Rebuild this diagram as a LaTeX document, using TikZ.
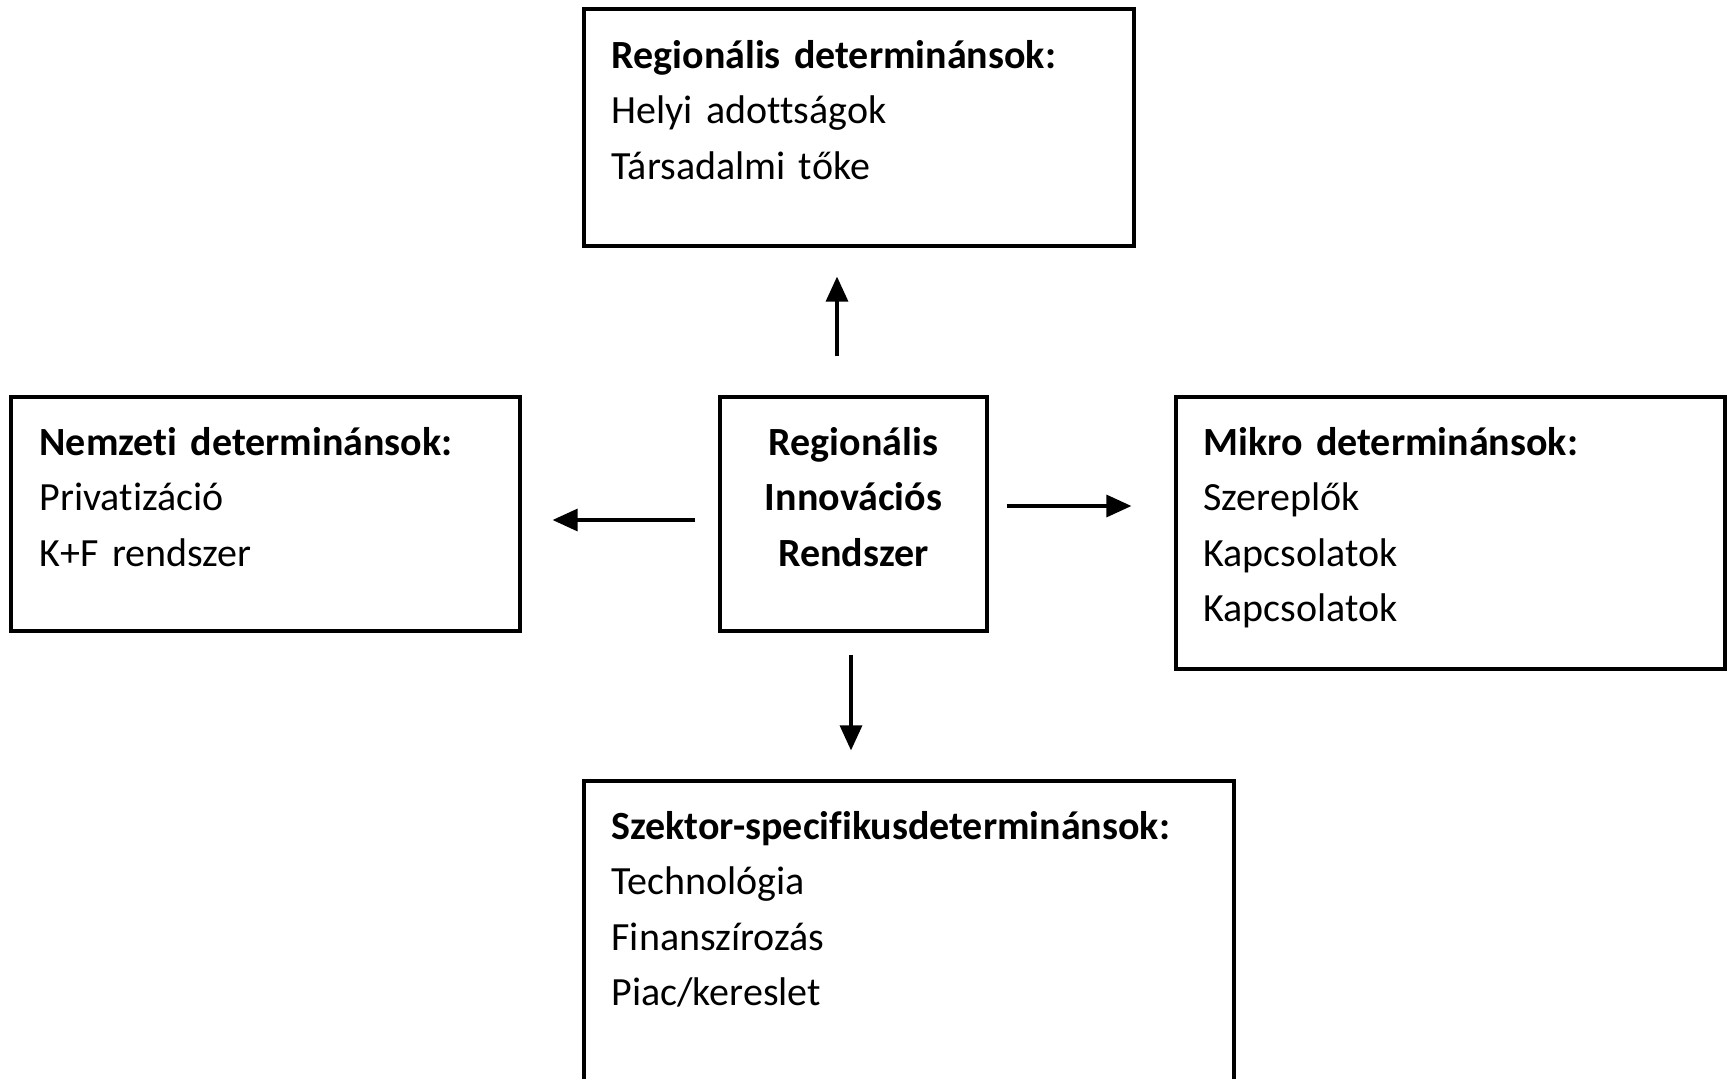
\documentclass[tikz,border=0pt]{standalone}
\usepackage{fontspec}
\setmainfont{Carlito}[Ligatures=NoCommon]
\usepackage{tikz}
\usetikzlibrary{arrows.meta,positioning}

\begin{document}
\begin{tikzpicture}[x=1pt,y=-1pt]
			\tikzstyle{box}=[rectangle, draw=black, line width=3.2pt, inner sep=0pt]
			\tikzstyle{txt}=[inner sep=0pt, anchor=base west, align=left, font=\fontsize{40}{55.5}\selectfont]
			\tikzstyle{connect}=[-{Triangle[length=25pt,width=22pt]}, line width=3.2pt]
			\useasboundingbox (0,0) rectangle (1727,1079);
			\clip (0,0) rectangle (1727,1079);
			% boxes
			\node[box, minimum width=550pt, minimum height=237pt] (regio) at (859,127.5) {};
			\node[box, minimum width=267pt, minimum height=234pt] (ris) at (853.5,514) {};
			\node[box, minimum width=509pt, minimum height=234pt] (nemzeti) at (265.5,514) {};
			\node[box, minimum width=549pt, minimum height=272pt] (mikro) at (1450.5,533) {};
			\node[box, minimum width=650pt, minimum height=329pt] (szektor) at (909,945.5) {};
			% texts
			\node[txt, text width=500pt] (regiotxt) at ([xshift=29pt,yshift=-61pt]regio.north west) {\textbf{Regionális determinánsok:}\\Helyi adottságok\\Társadalmi tőke};
			\node[txt, anchor=base, align=center, text width=260pt] (ristxt) at ([yshift=-60pt]ris.north) {\textbf{Regionális}\\\textbf{Innovációs}\\\textbf{Rendszer}};
			\node[txt, text width=470pt] (nemzetitxt) at ([xshift=30pt,yshift=-60pt]nemzeti.north west) {\textbf{Nemzeti determinánsok:}\\Privatizáció\\K+F rendszer};
			\node[txt, text width=500pt] (mikrotxt) at ([xshift=29pt,yshift=-60pt]mikro.north west) {\textbf{Mikro determinánsok:}\\Szereplők\\Kapcsolatok\\Kapcsolatok};
			\node[txt, text width=600pt] (szektortxt) at ([xshift=29pt,yshift=-60pt]szektor.north west) {\textbf{Szektor-specifikusdeterminánsok:}\\Technológia\\Finanszírozás\\Piac/kereslet};
			\path
			([xshift=-16.5pt]ris.north) edge [connect, shorten <=39pt, shorten >=29pt] ([xshift=-16.5pt]ris.north |- regio.south)
			([yshift=-6pt]ris.west) edge [connect, shorten <=23pt, shorten >=31pt] ([yshift=-6pt]ris.west -| nemzeti.east)
			([yshift=8pt]ris.east) edge [connect, shorten <=18pt, shorten >=43pt] ([yshift=8pt]ris.east -| mikro.west)
			([xshift=-2.5pt]ris.south) edge [connect, shorten <=22pt, shorten >=29pt] ([xshift=-2.5pt]ris.south |- szektor.north);
\end{tikzpicture}
\end{document}
